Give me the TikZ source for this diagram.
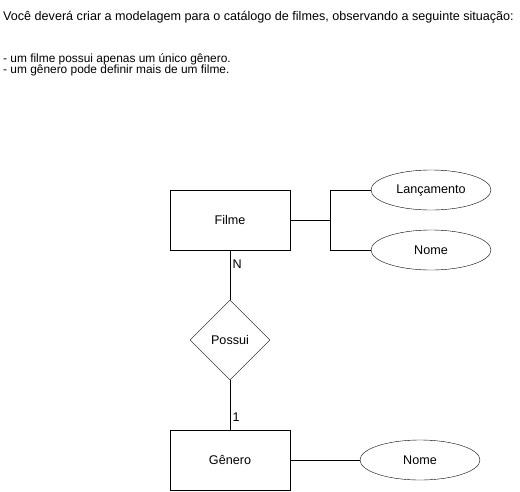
\documentclass[tikz,border=0pt]{standalone}
\usepackage{fontspec}
\setmainfont{Liberation Sans}
\usetikzlibrary{shapes.geometric}

\begin{document}
\begin{tikzpicture}[x=1pt, y=-1pt, node distance=120pt,
            every node/.style = {font=\fontsize{12.6}{12}\selectfont},
            entity/.style = {draw, rectangle, fill=white, minimum width=120pt, minimum height=60pt},
            attrib/.style = {draw, ellipse, fill=white, minimum width=120pt, minimum height=40pt, inner sep=0pt},
            rel/.style = {draw, diamond, fill=white, minimum width=80pt, minimum height=80pt, inner sep=0pt},
            card/.style = {right, inner sep=2.5pt},
            note/.style = {anchor=base west, inner sep=0pt}]
            \useasboundingbox (0,0) rectangle (520,491);
            % enunciado
            \node[note] (t1) at (3,20) {Você deverá criar a modelagem para o catálogo de filmes, observando a seguinte situação:};
            \node[note, font=\fontsize{11.9}{11}\selectfont] (t2) at (3,62) {- um filme possui apenas um único gênero.};
            \node[note, font=\fontsize{11.9}{11}\selectfont] (t3) at (3,73.5) {- um gênero pode definir mais de um filme.};
            % modelo
            \node[entity] (filme) at (230,220) {Filme};
            \node[rel] (possui) [below of=filme] {Possui};
            \node[entity] (genero) [below of=possui] {Gênero};
            \node[attrib] (lanc) at (431,190) {Lançamento};
            \node[attrib] (nome1) at (431,250) {Nome};
            \node[attrib] (nome2) at (420,460) {Nome};
            \coordinate (j) at (330,220);
            \draw (filme) -- (j);
            \draw (j) |- (lanc);
            \draw (j) |- (nome1);
            \draw (filme) -- node[card, pos=0.28] {N} (possui);
            \draw (possui) -- node[card, pos=0.74] {1} (genero);
            \draw (genero) -- (nome2);
        \end{tikzpicture}
\end{document}
